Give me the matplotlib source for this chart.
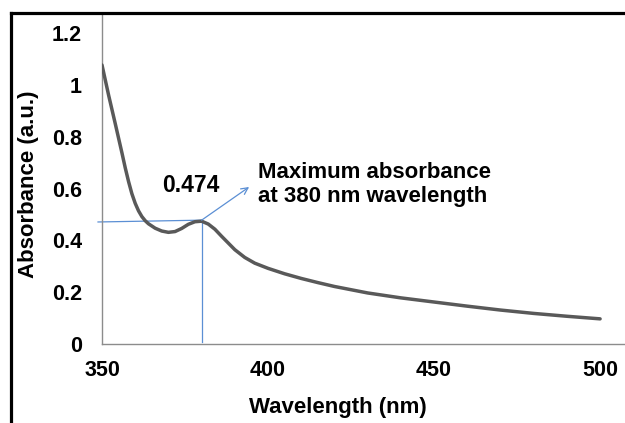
import matplotlib
matplotlib.use("Agg")
import matplotlib.pyplot as plt
from matplotlib.lines import Line2D

# absorbance spectrum
wavelength = [350, 352, 354, 356, 357, 358, 359, 360, 361, 362, 363, 364, 366,
              368, 370, 372, 374, 376, 378, 380, 382, 384, 386, 388, 390, 393,
              396, 400, 405, 410, 415, 420, 430, 440, 450, 460, 470, 480, 490, 500]
absorbance = [1.077, 0.96, 0.85, 0.738, 0.68, 0.627, 0.58, 0.543, 0.514, 0.492,
              0.476, 0.464, 0.447, 0.436, 0.431, 0.434, 0.446, 0.462, 0.472, 0.474,
              0.463, 0.443, 0.416, 0.39, 0.364, 0.334, 0.312, 0.292, 0.271, 0.253,
              0.237, 0.222, 0.197, 0.178, 0.162, 0.146, 0.131, 0.118, 0.107, 0.097]

peak_x, peak_y = 380, 0.474
x_ticks = [350, 400, 450, 500]
y_ticks = [0, 0.2, 0.4, 0.6, 0.8, 1.0, 1.2]
y_labels = ["0", "0.2", "0.4", "0.6", "0.8", "1", "1.2"]

plt.rcParams["font.family"] = ["Liberation Sans", "DejaVu Sans"]
plt.rcParams["font.weight"] = "bold"

fig = plt.figure(figsize=(6.25, 4.23), dpi=100)
ax = fig.add_axes([0.1632, 0.1868, 0.8368, 0.7802])

ax.plot(wavelength, absorbance, color="#595959", lw=2.5, solid_capstyle="round",
        solid_joinstyle="round", zorder=3)

blue = "#5b8fd4"
# guide lines to the peak
ax.plot([348.8, peak_x], [0.471, peak_y + 0.004], color=blue, lw=0.9, clip_on=False, zorder=2)
ax.plot([peak_x, peak_x], [0.008, peak_y + 0.004], color=blue, lw=0.9, zorder=2)
ax.annotate("", xy=(394.3, 0.606), xytext=(peak_x, peak_y + 0.004),
            arrowprops=dict(arrowstyle="->", color=blue, lw=0.9,
                            mutation_scale=12, shrinkA=0, shrinkB=0))

ax.text(376.8, 0.61, "0.474", ha="center", va="center", fontsize=16.5,
        fontweight="bold", color="black")
ax.text(397.0, 0.617, "Maximum absorbance\nat 380 nm wavelength", ha="left",
        va="center", fontsize=16, fontweight="bold", linespacing=1.17)

ax.set_xlim(350, 507.5)
ax.set_ylim(0, 1.274)
ax.set_xticks(x_ticks)
ax.set_yticks(y_ticks)
ax.set_yticklabels(y_labels)
ax.tick_params(axis="both", length=0, labelsize=15.5)
ax.tick_params(axis="y", pad=14.4)
ax.tick_params(axis="x", pad=11.5)
for lab in ax.get_xticklabels() + ax.get_yticklabels():
    lab.set_fontweight("bold")

for side in ["top", "right"]:
    ax.spines[side].set_visible(False)
for side in ["left", "bottom"]:
    ax.spines[side].set_color("#8c8c8c")
    ax.spines[side].set_linewidth(1.0)

ax.set_xlabel("Wavelength (nm)", fontsize=16, fontweight="bold", va="center")
ax.xaxis.set_label_coords(0.451, -0.191)
ax.set_ylabel("Absorbance (a.u.)", fontsize=16, fontweight="bold", va="center")
ax.yaxis.set_label_coords(-0.14, 0.485)

# black frame on top and left
fig.add_artist(Line2D([0.0176, 1.0], [0.969, 0.969], color="black", lw=2.3,
                      transform=fig.transFigure))
fig.add_artist(Line2D([0.0176, 0.0176], [0.0, 0.969], color="black", lw=2.3,
                      transform=fig.transFigure))

fig.savefig("out.png", dpi=100)
